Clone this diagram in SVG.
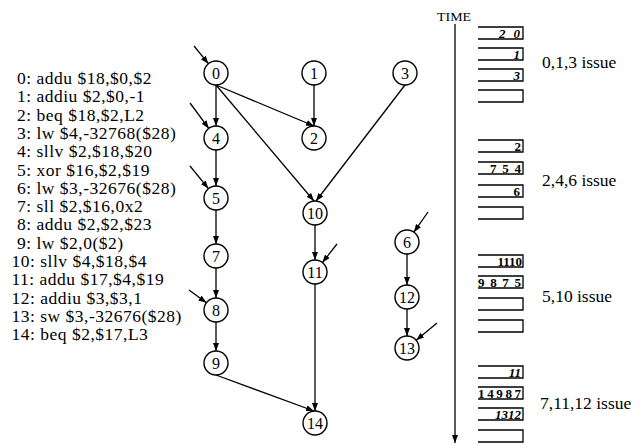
<svg xmlns="http://www.w3.org/2000/svg" width="639" height="445" viewBox="0 0 639 445">
<style>
text{font-family:"Liberation Serif","Times New Roman",serif;fill:#000}
.ins{font-size:17.5px;letter-spacing:0.5px}
.nl{font-size:16px;text-anchor:middle}
.iss{font-size:17.5px}
.bx{fill:none;stroke:#000;stroke-width:1.3}
.bt{font-size:13px;font-weight:bold;text-anchor:end}
.it{font-style:italic}
circle{fill:#fff;stroke:#000;stroke-width:1.4}
.e{stroke:#000;stroke-width:1.3;fill:none;marker-end:url(#ah)}
</style>
<defs>
<marker id="ah" markerUnits="userSpaceOnUse" markerWidth="8" markerHeight="6" refX="8" refY="3" orient="auto">
<path d="M0,0 L8,3 L0,6 z" fill="#000"/>
</marker>
</defs>
<g id="code">
<text class="ins" x="17" y="84">0: addu $18,$0,$2</text>
<text class="ins" x="17" y="102.3">1: addiu $2,$0,-1</text>
<text class="ins" x="17" y="120.6">2: beq $18,$2,L2</text>
<text class="ins" x="17" y="138.9">3: lw $4,-32768($28)</text>
<text class="ins" x="17" y="157.2">4: sllv $2,$18,$20</text>
<text class="ins" x="17" y="175.5">5: xor $16,$2,$19</text>
<text class="ins" x="17" y="193.8">6: lw $3,-32676($28)</text>
<text class="ins" x="17" y="212.1">7: sll $2,$16,0x2</text>
<text class="ins" x="17" y="230.4">8: addu $2,$2,$23</text>
<text class="ins" x="17" y="248.7">9: lw $2,0($2)</text>
<text class="ins" x="11.5" y="267">10: sllv $4,$18,$4</text>
<text class="ins" x="11.5" y="285.3">11: addu $17,$4,$19</text>
<text class="ins" x="11.5" y="303.6">12: addiu $3,$3,1</text>
<text class="ins" x="11.5" y="321.9">13: sw $3,-32676($28)</text>
<text class="ins" x="11.5" y="340.2">14: beq $2,$17,L3</text>
</g>
<g id="connectors">
<line class="e" x1="194" y1="46" x2="208.4" y2="63.7"/>
<line class="e" x1="190" y1="103" x2="208.8" y2="128.4"/>
<line class="e" x1="190" y1="166" x2="208.4" y2="188.6"/>
<line class="e" x1="189" y1="290" x2="206.4" y2="302.8"/>
<line class="e" x1="337" y1="244" x2="322.4" y2="262.6"/>
<line class="e" x1="428" y1="212" x2="413.9" y2="232.2"/>
<line class="e" x1="437" y1="323" x2="416.2" y2="340.3"/>
<line class="e" x1="216" y1="85" x2="216" y2="126"/>
<line class="e" x1="216" y1="85" x2="314" y2="126"/>
<line class="e" x1="216" y1="85" x2="314" y2="201"/>
<line class="e" x1="405" y1="85" x2="316" y2="201"/>
<line class="e" x1="314" y1="85" x2="314" y2="126"/>
<line class="e" x1="216" y1="150" x2="216" y2="186"/>
<line class="e" x1="216" y1="210" x2="216" y2="244"/>
<line class="e" x1="216" y1="268" x2="216" y2="298"/>
<line class="e" x1="216" y1="322" x2="216" y2="351"/>
<line class="e" x1="216" y1="375" x2="314" y2="411"/>
<line class="e" x1="315" y1="225" x2="315" y2="260"/>
<line class="e" x1="315" y1="284" x2="315" y2="411"/>
<line class="e" x1="407" y1="254" x2="407" y2="285"/>
<line class="e" x1="407" y1="309" x2="407" y2="336"/>
<line class="e" x1="455" y1="24" x2="455" y2="443"/>
</g>
<g id="n0"><circle cx="216" cy="73" r="12"/><text class="nl" x="216" y="78.5">0</text></g>
<g id="n1"><circle cx="314" cy="73" r="12"/><text class="nl" x="314" y="78.5">1</text></g>
<g id="n3"><circle cx="405" cy="73" r="12"/><text class="nl" x="405" y="78.5">3</text></g>
<g id="n4"><circle cx="216" cy="138" r="12"/><text class="nl" x="216" y="143.5">4</text></g>
<g id="n2"><circle cx="314" cy="138" r="12"/><text class="nl" x="314" y="143.5">2</text></g>
<g id="n5"><circle cx="216" cy="198" r="12"/><text class="nl" x="216" y="203.5">5</text></g>
<g id="n10"><circle cx="315" cy="213" r="12"/><text class="nl" x="315" y="218.5">10</text></g>
<g id="n7"><circle cx="216" cy="256" r="12"/><text class="nl" x="216" y="261.5">7</text></g>
<g id="n11"><circle cx="315" cy="272" r="12"/><text class="nl" x="315" y="277.5">11</text></g>
<g id="n6"><circle cx="407" cy="242" r="12"/><text class="nl" x="407" y="247.5">6</text></g>
<g id="n12"><circle cx="407" cy="297" r="12"/><text class="nl" x="407" y="302.5">12</text></g>
<g id="n8"><circle cx="216" cy="310" r="12"/><text class="nl" x="216" y="315.5">8</text></g>
<g id="n13"><circle cx="407" cy="348" r="12"/><text class="nl" x="407" y="353.5">13</text></g>
<g id="n9"><circle cx="216" cy="363" r="12"/><text class="nl" x="216" y="368.5">9</text></g>
<g id="n14"><circle cx="315" cy="423" r="12"/><text class="nl" x="315" y="428.5">14</text></g>
<g id="timeline">
<text x="437" y="21" font-size="12" textLength="34" lengthAdjust="spacingAndGlyphs">TIME</text>
<path class="bx" d="M478,27 H523 V39 H478"/>
<path class="bx" d="M478,48 H523 V60 H478"/>
<path class="bx" d="M478,69 H523 V81 H478"/>
<path class="bx" d="M478,90 H523 V102 H478"/>
<text class="bt it" x="520" y="37.5" textLength="21" lengthAdjust="spacing">2 0</text>
<text class="bt it" x="520" y="58.5">1</text>
<text class="bt it" x="520" y="79.5">3</text>
<path class="bx" d="M478,140 H523 V152 H478"/>
<path class="bx" d="M478,162 H523 V174 H478"/>
<path class="bx" d="M478,185 H523 V197 H478"/>
<path class="bx" d="M478,207 H523 V219 H478"/>
<text class="bt" x="521" y="150.5">2</text>
<text class="bt" x="521" y="172.5" textLength="31" lengthAdjust="spacing">754</text>
<text class="bt" x="520" y="195.5">6</text>
<path class="bx" d="M478,255 H523 V267 H478"/>
<path class="bx" d="M478,276 H523 V288 H478"/>
<path class="bx" d="M478,298 H523 V310 H478"/>
<path class="bx" d="M478,320 H523 V332 H478"/>
<text class="bt" x="522" y="265.5">1110</text>
<text class="bt" x="521" y="286.5" textLength="43" lengthAdjust="spacing">9875</text>
<path class="bx" d="M478,366 H523 V378 H478"/>
<path class="bx" d="M478,387 H523 V399 H478"/>
<path class="bx" d="M478,408 H523 V420 H478"/>
<path class="bx" d="M478,430 H523 V442 H478"/>
<text class="bt it" x="521" y="376.5">11</text>
<text class="bt" x="521" y="397.5" textLength="43" lengthAdjust="spacing">14987</text>
<text class="bt it" x="521" y="418.5">1312</text>
<text class="iss" x="542" y="68">0,1,3 issue</text>
<text class="iss" x="542" y="186">2,4,6 issue</text>
<text class="iss" x="542" y="302">5,10 issue</text>
<text class="iss" x="540" y="409">7,11,12 issue</text>
</g>
</svg>
